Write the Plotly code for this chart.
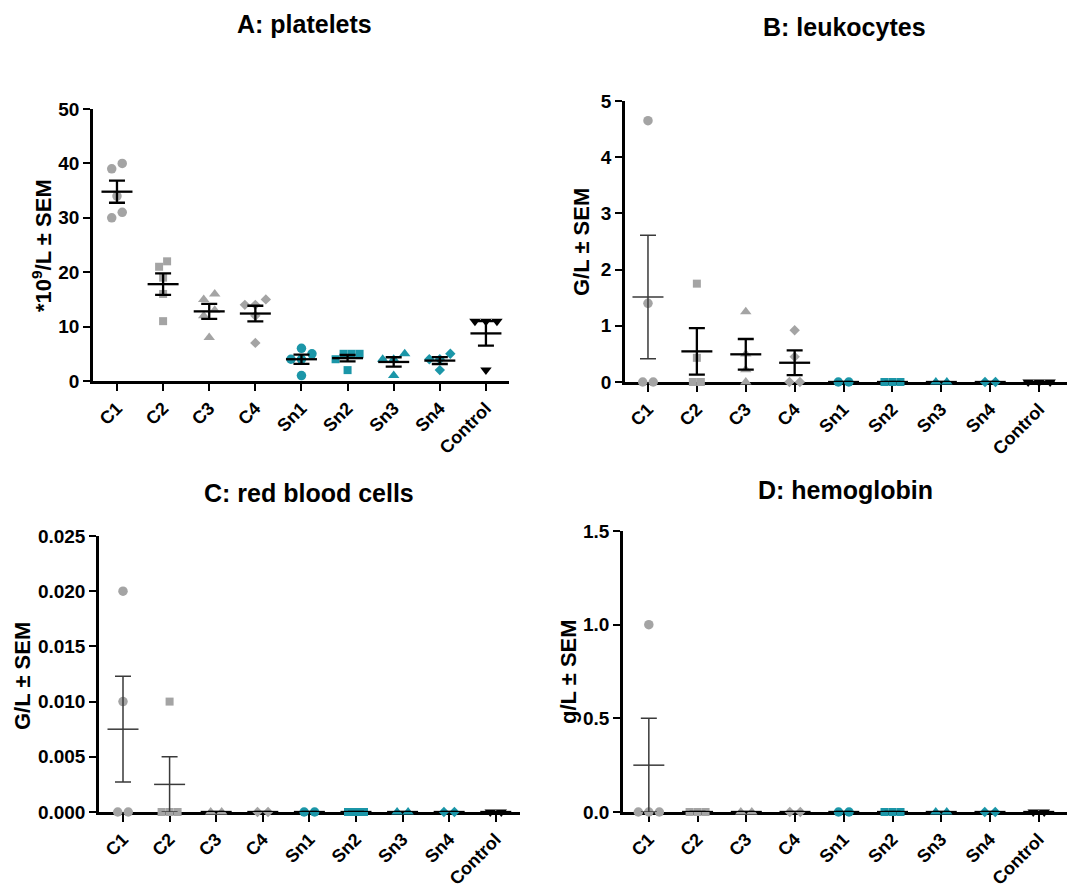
import numpy as np
import plotly.graph_objects as go

# ---- data -------------------------------------------------------------
groups = ["C1", "C2", "C3", "C4", "Sn1", "Sn2", "Sn3", "Sn4", "Control"]

platelets = [
    [40, 39, 34, 31, 30],
    [22, 21, 19, 16, 11],
    [16, 15, 13, 12, 8],
    [15, 14, 14, 12, 7],
    [6, 5, 4, 4, 1],
    [5, 5, 5, 4, 2],
    [5, 4, 4, 1],
    [5, 4, 4, 2],
    [11, 11, 11, 2],
]
leukocytes = [
    [4.65, 1.4, 0, 0],
    [1.75, 0.43, 0, 0],
    [1.25, 0.5, 0.22, 0],
    [0.92, 0.45, 0, 0],
    [0, 0],
    [0, 0, 0],
    [0, 0],
    [0, 0],
    [0, 0, 0],
]
red_blood_cells = [
    [0.02, 0.01, 0, 0],
    [0.01, 0, 0, 0],
    [0, 0],
    [0, 0],
    [0, 0],
    [0, 0, 0],
    [0, 0],
    [0, 0],
    [0, 0],
]
hemoglobin = [
    [1.0, 0, 0, 0],
    [0, 0, 0],
    [0, 0],
    [0, 0],
    [0, 0],
    [0, 0, 0],
    [0, 0],
    [0, 0],
    [0, 0],
]

# ---- styling ----------------------------------------------------------
W, H = 1067, 889
GREY = "#a4a4a4"
TEAL = "#1b96a8"
FONT = "Liberation Sans, Arial, sans-serif"

colors = [GREY] * 4 + [TEAL] * 4 + ["black"]
symbols = ["circle", "square", "triangle-up", "diamond"] * 2 + ["triangle-down"]
msize = {"circle": 9.5, "square": 8, "triangle-up": 10, "diamond": 8, "triangle-down": 10}
mstep = {"circle": 10.5, "square": 8, "triangle-up": 11, "diamond": 10.5, "triangle-down": 11}

panels = [
    dict(data=platelets, title="A: platelets", ytitle="*10<sup>9</sup>/L ± SEM",
         x0=93, x1=509, ytop=109, ybot=381, xr=[-0.52, 8.5], yr=[0, 50],
         dtick=10, fmt="d", title_at=(304, 24), ytitle_at=(42, 246), thin=[]),
    dict(data=leukocytes, title="B: leukocytes", ytitle="G/L ± SEM",
         x0=625, x1=1067, ytop=101, ybot=382, xr=[-0.47, 8.57], yr=[0, 5],
         dtick=1, fmt="d", title_at=(844, 27), ytitle_at=(581, 242), thin=[0]),
    dict(data=red_blood_cells, title="C: red blood cells", ytitle="G/L ± SEM",
         x0=99, x1=520, ytop=536, ybot=812, xr=[-0.515, 8.52], yr=[0, 0.025],
         dtick=0.005, fmt=".3f", title_at=(309, 493), ytitle_at=(22, 676), thin=[0, 1]),
    dict(data=hemoglobin, title="D: hemoglobin", ytitle="g/L ± SEM",
         x0=623, x1=1067, ytop=531, ybot=812, xr=[-0.53, 8.58], yr=[0, 1.5],
         dtick=0.5, fmt=".1f", title_at=(845, 490), ytitle_at=(568, 672), thin=[0]),
]


def fx(px):
    return px / W


def fy(py):
    return 1 - py / H


def spread(vals, ppu_y, ppu_x, step_px, thresh_px=9.0):
    """Horizontal offsets so that points with nearly equal values sit side by side."""
    order = sorted(range(len(vals)), key=lambda i: vals[i])
    clusters = []
    for i in order:
        if clusters and (vals[i] - vals[clusters[-1][0]]) * ppu_y < thresh_px:
            clusters[-1].append(i)
        else:
            clusters.append([i])
    off = [0.0] * len(vals)
    for c in clusters:
        k = len(c)
        for j, i in enumerate(c):
            off[i] = (j - (k - 1) / 2) * step_px / ppu_x
    return off


fig = go.Figure()
annotations = []

for p_idx, p in enumerate(panels):
    n = "" if p_idx == 0 else str(p_idx + 1)
    xa, ya = "x" + n, "y" + n
    ppu_y = (p["ybot"] - p["ytop"]) / (p["yr"][1] - p["yr"][0])
    ppu_x = (p["x1"] - p["x0"]) / (p["xr"][1] - p["xr"][0])

    # individual values
    for g, vals in enumerate(p["data"]):
        sym = symbols[g]
        off = spread(vals, ppu_y, ppu_x, mstep[sym])
        fig.add_trace(go.Scatter(
            x=[g + o for o in off], y=vals, xaxis=xa, yaxis=ya,
            mode="markers", cliponaxis=False, showlegend=False, hoverinfo="skip",
            marker=dict(symbol=sym, size=msize[sym], color=colors[g], line=dict(width=0)),
        ))

    # mean line and SEM bar per group
    for g, vals in enumerate(p["data"]):
        arr = np.asarray(vals, dtype=float)
        mean = arr.mean()
        sem = arr.std(ddof=1) / np.sqrt(len(arr)) if len(arr) > 1 else 0.0
        thin = g in p["thin"]
        col = "#3a3a3a" if thin else "black"
        th = 1.5 if thin else 2.3
        fig.add_trace(go.Scatter(
            x=[g], y=[mean], xaxis=xa, yaxis=ya, mode="markers",
            marker=dict(size=1, opacity=0), showlegend=False, hoverinfo="skip",
            cliponaxis=False,
            error_y=dict(type="data", array=[sem], visible=True, color=col,
                         thickness=th, width=8),
            error_x=dict(type="constant", value=15.5 / ppu_x, visible=True,
                         color=col, thickness=th, width=0),
        ))

    axis_common = dict(
        showline=True, linecolor="black", linewidth=2.5, ticks="outside",
        tickwidth=2, tickcolor="black", showgrid=False, zeroline=False,
        layer="below traces", automargin=False,
    )
    fig.update_layout(**{
        "xaxis" + n: dict(
            axis_common, domain=[fx(p["x0"]), fx(p["x1"])], anchor=ya,
            range=p["xr"], tickmode="array", tickvals=list(range(len(groups))),
            ticktext=groups, tickangle=-45, ticklen=7,
            tickfont=dict(family=FONT, size=18, color="black", weight="bold"),
        ),
        "yaxis" + n: dict(
            axis_common, domain=[fy(p["ybot"]), fy(p["ytop"])], anchor=xa,
            range=p["yr"], tick0=0, dtick=p["dtick"], tickformat=p["fmt"], ticklen=7,
            tickfont=dict(family=FONT, size=19, color="black", weight="bold"),
        ),
    })

    tx, ty = p["title_at"]
    annotations.append(dict(
        text=p["title"], x=fx(tx), y=fy(ty), xref="paper", yref="paper",
        xanchor="center", yanchor="middle", showarrow=False,
        font=dict(family=FONT, size=25, color="black", weight="bold"),
    ))
    ax_, ay_ = p["ytitle_at"]
    annotations.append(dict(
        text=p["ytitle"], x=fx(ax_), y=fy(ay_), xref="paper", yref="paper",
        xanchor="center", yanchor="middle", showarrow=False, textangle=-90,
        font=dict(family=FONT, size=22, color="black", weight="bold"),
    ))

fig.update_layout(
    width=W, height=H, template="none",
    margin=dict(l=0, r=0, t=0, b=0),
    paper_bgcolor="white", plot_bgcolor="white",
    showlegend=False, annotations=annotations,
)

fig.write_html("out.html")
